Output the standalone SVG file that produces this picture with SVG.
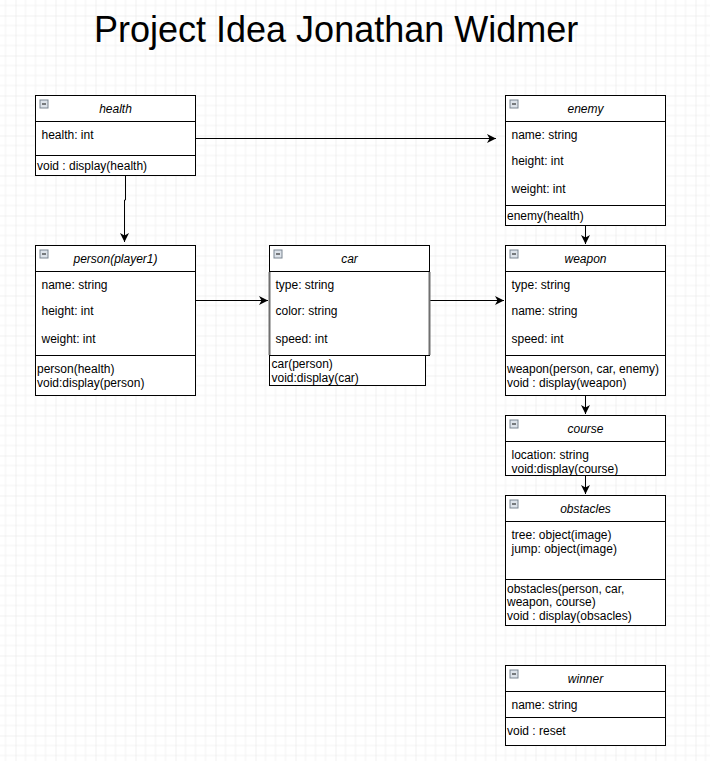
<svg xmlns="http://www.w3.org/2000/svg" width="710" height="761" viewBox="0 0 710 761">
<defs>
<pattern id="grid" width="40" height="40" patternUnits="userSpaceOnUse" x="15.5" y="15.5">
<path d="M10 0V40M20 0V40M30 0V40M0 10H40M0 20H40M0 30H40" stroke="#f2f2f2" stroke-width="1" fill="none"/>
<path d="M0 0V40M0 0H40" stroke="#e3e3e3" stroke-width="1" fill="none"/>
</pattern>
<marker id="arr" markerWidth="10" markerHeight="10" refX="9" refY="4.5" orient="auto" markerUnits="userSpaceOnUse">
<path d="M0,0 L9,4.5 L0,9 L2.5,4.5 Z" fill="#000"/>
</marker>
<g id="minus">
<rect x="0.5" y="0.5" width="8" height="8" fill="#dde3ea" stroke="#7a8591" stroke-width="1"/>
<path d="M2.5 4.5H6.5" stroke="#333" stroke-width="1.2"/>
</g>
</defs>
<style>
.box{fill:#fff;stroke:#000;stroke-width:1}
.ln{stroke:#000;stroke-width:1;fill:none}
.t{font-family:"Liberation Sans",Arial,sans-serif;font-size:12px;fill:#000}
.h{font-family:"Liberation Sans",Arial,sans-serif;font-size:12px;font-style:italic;fill:#000;text-anchor:middle}
.title{font-family:"Liberation Sans",Arial,sans-serif;font-size:36px;fill:#000}
.c{stroke:#000;stroke-width:1;fill:none;marker-end:url(#arr)}
</style>
<rect width="710" height="761" fill="#fff"/>
<rect width="710" height="761" fill="url(#grid)"/>

<text class="title" x="94" y="42">Project Idea Jonathan Widmer</text>

<g id="connectors">
<path class="c" d="M195.5 138.5H496"/>
<path class="c" d="M125.5 175.5V200H124.5V242"/>
<path class="c" d="M195.5 300.5H268"/>
<path class="c" d="M429.5 300.5H504"/>
<path class="c" d="M585.5 225.5V244"/>
<path class="c" d="M585.5 395.5V414"/>
<path class="c" d="M585.5 475.5V494"/>
</g>

<g id="health">
<rect class="box" x="35.5" y="95.5" width="160" height="80"/>
<path class="ln" d="M35.5 121.5H195.5M35.5 155.5H195.5"/>
<use href="#minus" x="39.5" y="99.5"/>
<text class="h" x="115.5" y="112.7">health</text>
<text class="t" x="41.5" y="138.5">health: int</text>
<text class="t" x="37" y="170">void : display(health)</text>
</g>

<g id="enemy">
<rect class="box" x="505.5" y="95.5" width="160" height="130"/>
<path class="ln" d="M505.5 121.5H665.5M505.5 205.5H665.5"/>
<use href="#minus" x="509.5" y="99.5"/>
<text class="h" x="585.5" y="112.7">enemy</text>
<text class="t" x="511.5" y="138.5">name: string</text>
<text class="t" x="511.5" y="164.5">height: int</text>
<text class="t" x="511.5" y="192.5">weight: int</text>
<text class="t" x="507" y="219.5">enemy(health)</text>
</g>

<g id="person">
<rect class="box" x="35.5" y="245.5" width="160" height="150"/>
<path class="ln" d="M35.5 271.5H195.5M35.5 355.5H195.5"/>
<use href="#minus" x="39.5" y="249.5"/>
<text class="h" x="115.5" y="262.7">person(player1)</text>
<text class="t" x="41.5" y="289">name: string</text>
<text class="t" x="41.5" y="315">height: int</text>
<text class="t" x="41.5" y="342.5">weight: int</text>
<text class="t" x="37" y="373">person(health)</text>
<text class="t" x="37" y="386.5">void:display(person)</text>
</g>

<g id="car">
<rect class="box" x="269.5" y="355.5" width="156" height="30"/>
<rect class="box" x="269.5" y="245.5" width="160" height="110"/>
<path class="ln" d="M269.5 271.5H429.5"/>
<path d="M269.5 272V355M429.5 272V355" stroke="#6f6f6f" stroke-width="2" fill="none"/>
<use href="#minus" x="273.5" y="249.5"/>
<text class="h" x="349.5" y="262.7">car</text>
<text class="t" x="275.5" y="289">type: string</text>
<text class="t" x="275.5" y="315">color: string</text>
<text class="t" x="275.5" y="342.5">speed: int</text>
<text class="t" x="271.5" y="368">car(person)</text>
<text class="t" x="271.5" y="381.5">void:display(car)</text>
</g>

<g id="weapon">
<rect class="box" x="505.5" y="245.5" width="160" height="150"/>
<path class="ln" d="M505.5 271.5H665.5M505.5 355.5H665.5"/>
<use href="#minus" x="509.5" y="249.5"/>
<text class="h" x="585.5" y="262.7">weapon</text>
<text class="t" x="511.5" y="289">type: string</text>
<text class="t" x="511.5" y="315">name: string</text>
<text class="t" x="511.5" y="342.5">speed: int</text>
<text class="t" x="507" y="373">weapon(person, car, enemy)</text>
<text class="t" x="507" y="386.5">void : display(weapon)</text>
</g>

<g id="course">
<rect class="box" x="505.5" y="415.5" width="160" height="60"/>
<path class="ln" d="M505.5 441.5H665.5"/>
<use href="#minus" x="509.5" y="419.5"/>
<text class="h" x="585.5" y="432.7">course</text>
<text class="t" x="511.5" y="458.5">location: string</text>
<text class="t" x="511.5" y="472.5">void:display(course)</text>
</g>

<g id="obstacles">
<rect class="box" x="505.5" y="495.5" width="160" height="130"/>
<path class="ln" d="M505.5 521.5H665.5M505.5 579.5H665.5"/>
<use href="#minus" x="509.5" y="499.5"/>
<text class="h" x="585.5" y="512.7">obstacles</text>
<text class="t" x="511.5" y="538.5">tree: object(image)</text>
<text class="t" x="511.5" y="552.5">jump: object(image)</text>
<text class="t" x="507" y="592.7">obstacles(person, car,</text>
<text class="t" x="507" y="606">weapon, course)</text>
<text class="t" x="507" y="620">void : display(obsacles)</text>
</g>

<g id="winner">
<rect class="box" x="505.5" y="665.5" width="160" height="80"/>
<path class="ln" d="M505.5 691.5H665.5M505.5 717.5H665.5"/>
<use href="#minus" x="509.5" y="669.5"/>
<text class="h" x="585.5" y="682.7">winner</text>
<text class="t" x="511.5" y="708.5">name: string</text>
<text class="t" x="507" y="735">void : reset</text>
</g>
</svg>
